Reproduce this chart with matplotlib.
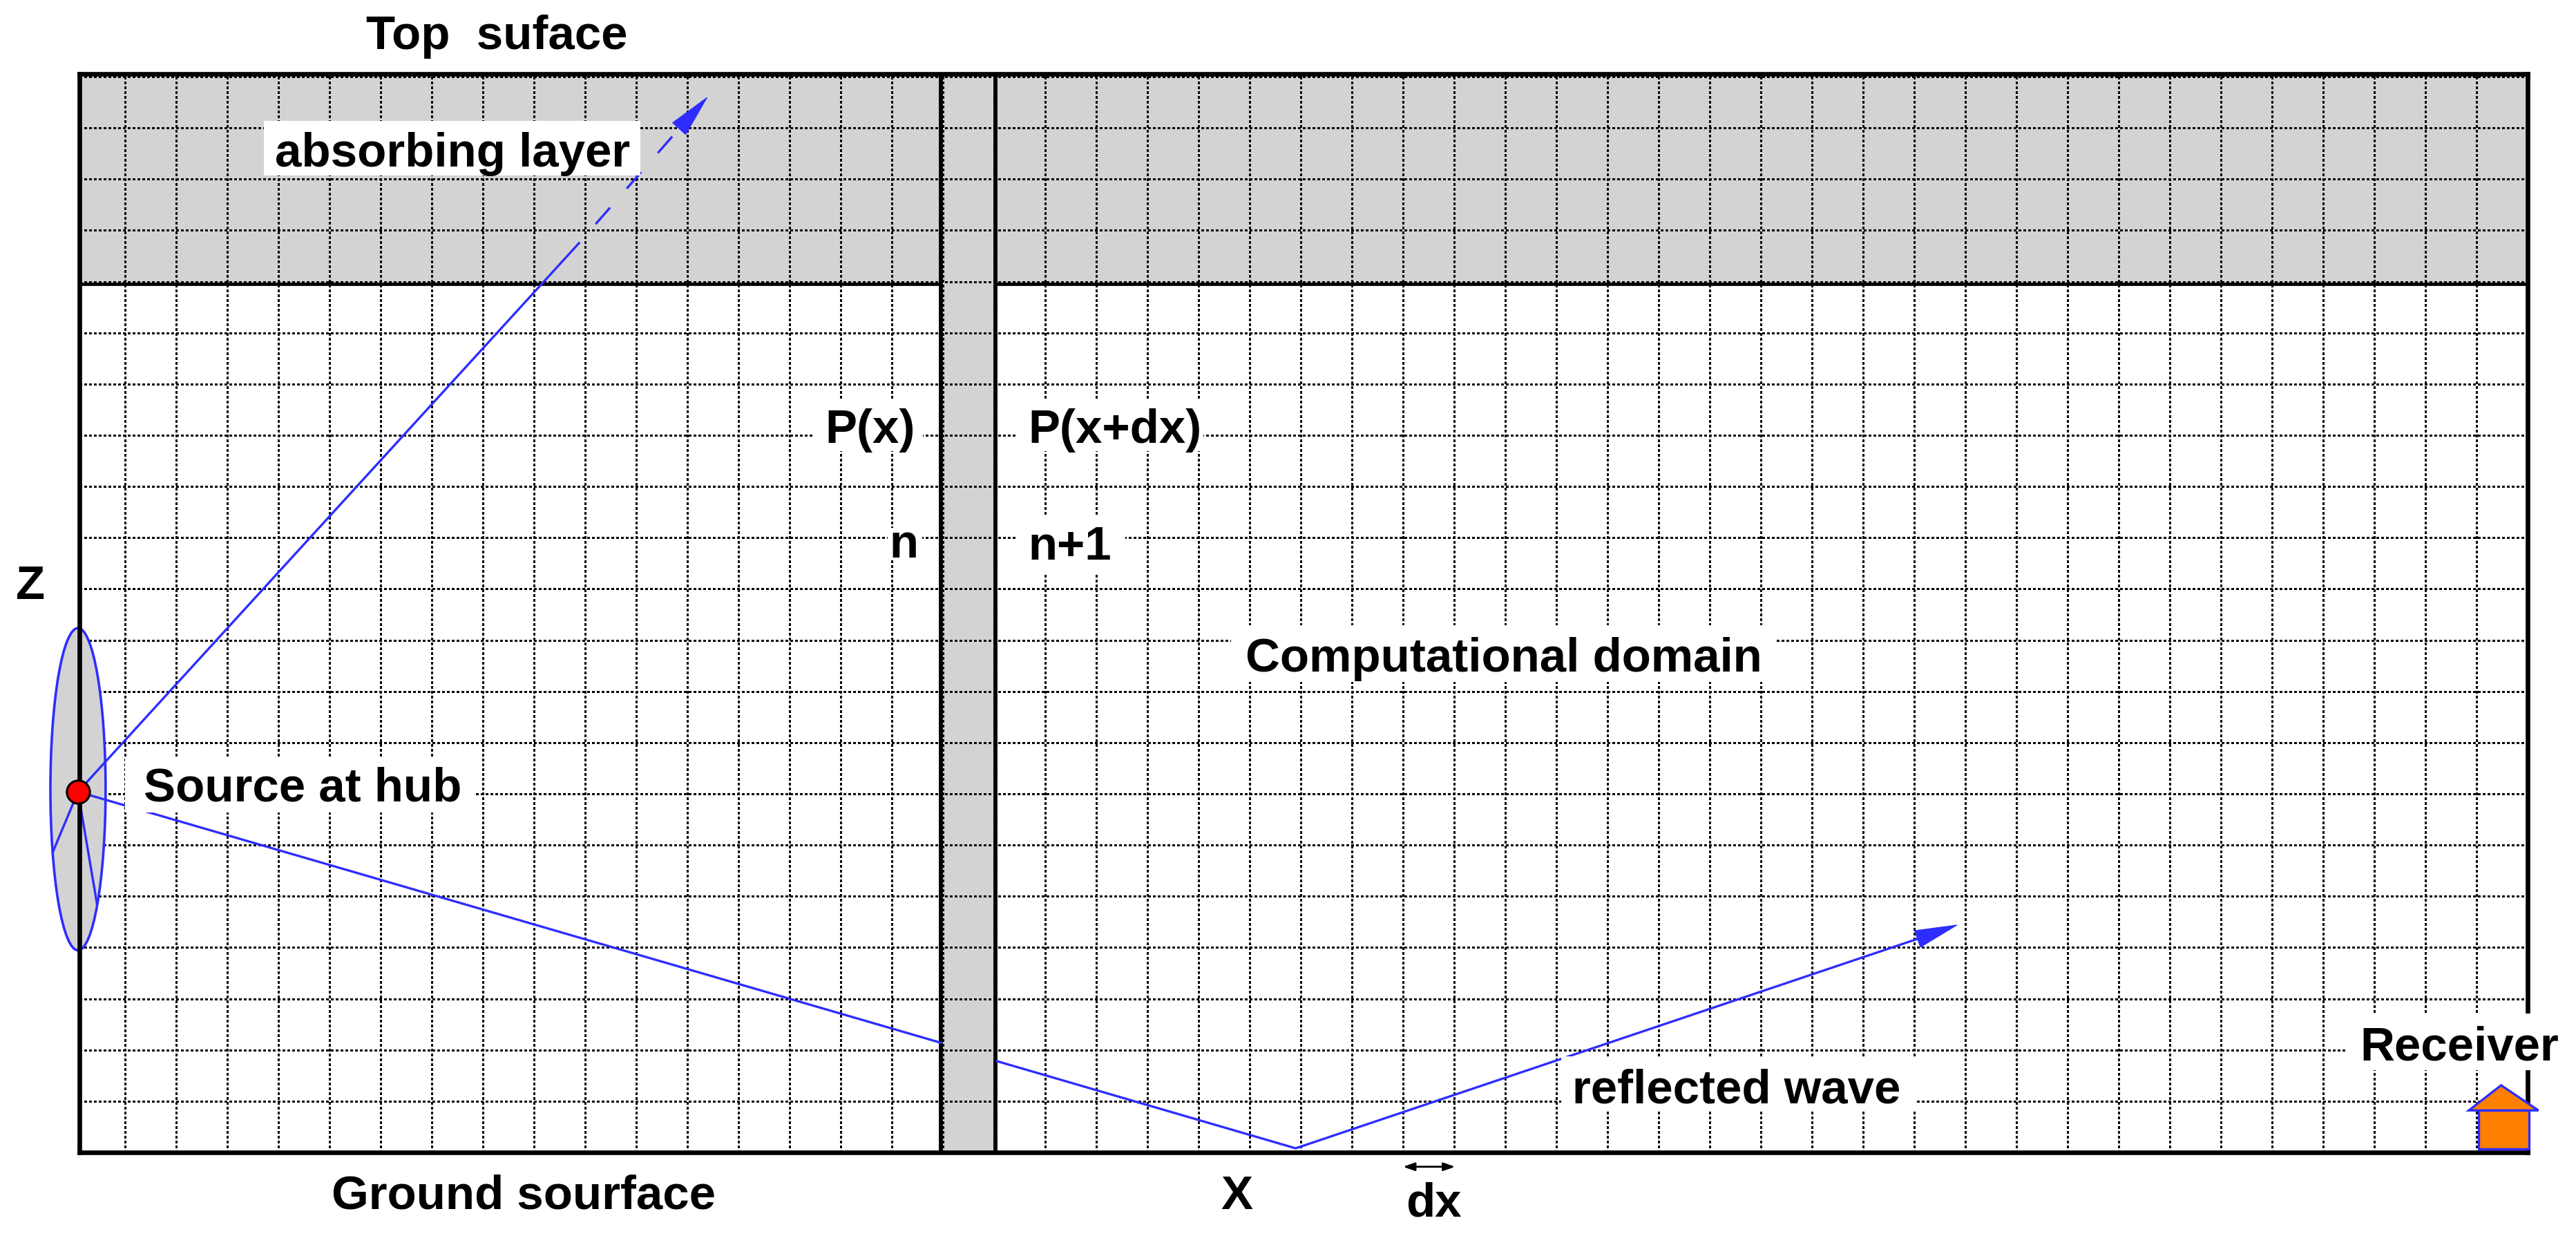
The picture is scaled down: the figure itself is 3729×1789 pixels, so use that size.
import numpy as np
import matplotlib
matplotlib.use("Agg")
import matplotlib.pyplot as plt
from matplotlib.patches import Rectangle, Ellipse, Polygon

plt.rcParams['font.family'] = ['Liberation Sans', 'DejaVu Sans']

# Everything below is in grid cells: x along the ground, z above the ground
X_MIN, X_MAX = 0.108, 48
Z_MIN, Z_MAX = 0, 21.06
x_lines = np.arange(1, 48)
z_lines = np.arange(1, 22)

layer_bottom = 16.95
column = (16.96, 18.03)

source = (0.08, 7.04)
disc_center = (0.08, 7.09)
disc_size = (1.08, 6.29)
blade_ends = [(-0.41, 5.87), (0.45, 4.86)]

# Ray going up into the absorbing layer
up_solid_end = (9.88, 17.75)
up_head_base = (11.87, 20.02)
up_tip = (12.41, 20.62)

# Ray going down to the ground, hidden behind the column
down_a = (16.96, 2.14)
down_b = (18.06, 1.78)
reflect = (23.90, 0.08)
refl_head_base = (36.13, 4.19)
refl_tip = (36.87, 4.45)

dx_span = (26.0, 27.02, -0.28)

roof_x = [46.85, 47.48, 48.21]
roof_z = [0.82, 1.31, 0.82]
house_x = (47.04, 48.03)
house_z = (0.07, 0.82)

# text, x, z of the baseline
labels = [
    ("Top  suface", 5.72, 21.55),
    ("absorbing layer", 3.93, 19.26),
    ("P(x)", 14.69, 13.87),
    ("P(x+dx)", 18.67, 13.87),
    ("n", 15.95, 11.63),
    ("n+1", 18.67, 11.59),
    ("Computational domain", 22.92, 9.40),
    ("Source at hub", 1.36, 6.87),
    ("Z", -1.14, 10.82),
    ("reflected wave", 29.31, 0.98),
    ("Ground sourface", 5.04, -1.08),
    ("X", 22.44, -1.09),
    ("dx", 26.06, -1.23),
    ("Receiver", 44.72, 1.82),
]

# white patches behind the labels: x0, x1, z0, z1
label_boxes = [
    (3.72, 11.08, 19.07, 20.14),
    (14.45, 16.61, 13.69, 14.72),
    (18.42, 22.09, 13.69, 14.72),
    (15.92, 16.59, 11.56, 12.19),
    (18.42, 20.57, 11.29, 12.42),
    (22.64, 33.29, 9.19, 10.29),
    (1.0, 7.87, 6.64, 7.73),
    (29.09, 36.04, 0.80, 1.87),
    (44.47, 48.77, 1.61, 2.71),
]

BLUE = '#2d2dff'
GRAY = '#d3d3d3'
ORANGE = '#ff7f00'

W, H = 3729, 1790
fig = plt.figure(figsize=(W / 100, H / 100), dpi=100)
ax = fig.add_axes([115 / W, (H - 1669) / H, (3659 - 115) / W, (1669 - 107.5) / H])
ax.set_xlim(X_MIN, X_MAX)
ax.set_ylim(Z_MIN, Z_MAX)

for side in ax.spines.values():
    side.set_linewidth(4.8)

ax.set_xticks(x_lines)
ax.set_yticks(z_lines)
ax.tick_params(length=0, labelbottom=False, labelleft=False)
ax.set_axisbelow('line')
ax.grid(True, color='black', linewidth=2.4, linestyle=(0, (1, 1)))
# the original is a bitmap, its dots are crisp
for line in ax.get_xgridlines() + ax.get_ygridlines():
    line.set_antialiased(False)

# Absorbing layer and the column between n and n+1
ax.add_patch(Rectangle((X_MIN, layer_bottom), X_MAX - X_MIN, Z_MAX - layer_bottom,
                       fc=GRAY, ec='none', zorder=1))
ax.plot([X_MIN, X_MAX], [layer_bottom, layer_bottom], color='black', lw=3.4, zorder=1.2)
ax.add_patch(Rectangle((column[0], Z_MIN), column[1] - column[0], Z_MAX - Z_MIN,
                       fc=GRAY, ec='none', zorder=1.3))
ax.plot([column[0], column[0]], [Z_MIN, Z_MAX], color='black', lw=4.2, zorder=1.4)
ax.plot([column[1], column[1]], [Z_MIN, Z_MAX], color='black', lw=4.2, zorder=1.4)

# Rotor disc
ax.add_patch(Ellipse(disc_center, disc_size[0], disc_size[1], fc=GRAY, ec=BLUE,
                     lw=2.6, zorder=1.6, clip_on=False))
for end in blade_ends:
    ax.plot([source[0], end[0]], [source[1], end[1]], color=BLUE, lw=2.4,
            zorder=2, clip_on=False)

# Rays
ax.plot([source[0], up_solid_end[0]], [source[1], up_solid_end[1]], color=BLUE, lw=2.4, zorder=2)
ax.plot([up_solid_end[0], up_head_base[0]], [up_solid_end[1], up_head_base[1]], color=BLUE,
        lw=2.4, linestyle=(9.5, (9.5, 11)), zorder=2)
ax.plot([source[0], down_a[0]], [source[1], down_a[1]], color=BLUE, lw=2.4, zorder=2)
ax.plot([down_b[0], reflect[0], refl_head_base[0]], [down_b[1], reflect[1], refl_head_base[1]],
        color=BLUE, lw=2.4, zorder=2)

head = '-|>,head_length=43,head_width=9'
for tip, base in [(up_tip, up_head_base), (refl_tip, refl_head_base)]:
    ax.annotate('', xy=tip, xytext=base, zorder=2.2,
                arrowprops=dict(arrowstyle=head, mutation_scale=1, color=BLUE, lw=1,
                                shrinkA=0, shrinkB=0))

# dx marker below the ground
ax.annotate('', xy=(dx_span[1], dx_span[2]), xytext=(dx_span[0], dx_span[2]),
            annotation_clip=False,
            arrowprops=dict(arrowstyle='<|-|>,head_length=10,head_width=3.5', mutation_scale=1,
                            color='black', lw=2, shrinkA=0, shrinkB=0))

# Receiver house
ax.add_patch(Rectangle((house_x[0], house_z[0]), house_x[1] - house_x[0], house_z[1] - house_z[0],
                       fc=ORANGE, ec=BLUE, lw=2.4, zorder=3.5, clip_on=False))
ax.add_patch(Polygon(np.column_stack([roof_x, roof_z]), closed=True, fc=ORANGE, ec=BLUE,
                     lw=2.4, zorder=3.5, clip_on=False))

for x0, x1, z0, z1 in label_boxes:
    ax.add_patch(Rectangle((x0, z0), x1 - x0, z1 - z0, fc='white', ec='none',
                           zorder=3, clip_on=False))

for text, x, z in labels:
    ax.text(x, z, text, fontsize=49.7, fontweight='bold', ha='left', va='baseline',
            color='black', zorder=4, clip_on=False)

# Source at the hub
ax.plot([source[0]], [source[1]], 'o', ms=24, mfc='#ff0000', mec='black', mew=2.2,
        zorder=3.6, clip_on=False)

fig.savefig('out.png', dpi=100)
